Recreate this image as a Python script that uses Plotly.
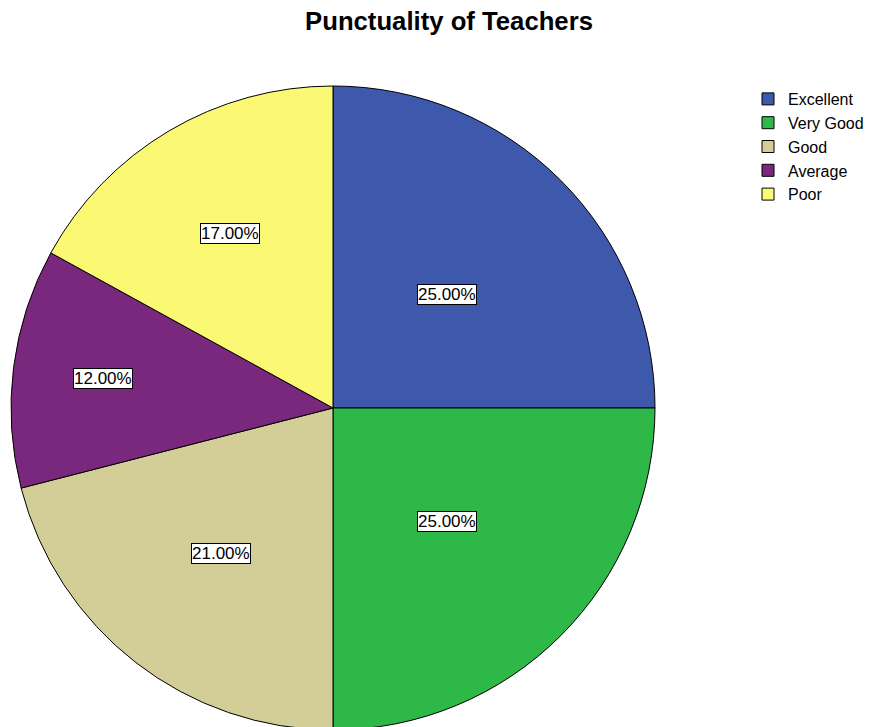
import math
import plotly.graph_objects as go

categories = ["Excellent", "Very Good", "Good", "Average", "Poor"]
percentages = [25.0, 25.0, 21.0, 12.0, 17.0]
colors = ["#3E58AC", "#2EB848", "#D3CE97", "#79287D", "#FBF873"]
label_radius = [0.50, 0.50, 0.57, 0.72, 0.63]  # fraction of radius where SPSS placed labels

W, H = 875, 727
ml, mr, mt, mb = 3, 0, 78, 5
pw, ph = W - ml - mr, H - mt - mb
diam = min(pw, ph)
dom_x = [0, diam / pw]

FONT = "Arial, Liberation Sans, sans-serif"

fig = go.Figure(go.Pie(
    labels=categories,
    values=percentages,
    sort=False,
    direction="clockwise",
    rotation=0,
    textinfo="none",
    hoverinfo="label+percent",
    marker=dict(colors=colors, line=dict(color="black", width=1)),
    domain=dict(x=dom_x, y=[0, 1]),
))

# label annotations placed at each slice's mid-angle
cx = (dom_x[0] + dom_x[1]) / 2
cy = 0.5
rx = diam / 2 / pw
ry = diam / 2 / ph
total = sum(percentages)
cum = 0.0
annotations = []
for v, f in zip(percentages, label_radius):
    mid = (cum + v / 2) / total * 2 * math.pi
    cum += v
    annotations.append(dict(
        x=cx + f * rx * math.sin(mid),
        y=cy + f * ry * math.cos(mid),
        xref="paper", yref="paper",
        xanchor="center", yanchor="middle",
        text=f"{v / total * 100:.2f}%",
        showarrow=False,
        font=dict(family=FONT, size=17, color="black"),
        bgcolor="white", bordercolor="black", borderwidth=1, borderpad=0,
    ))

fig.update_layout(
    width=W, height=H,
    margin=dict(l=ml, r=mr, t=mt, b=mb),
    paper_bgcolor="white", plot_bgcolor="white",
    title=dict(text="<b>Punctuality of Teachers</b>", x=441 / W, xref="container", xanchor="center",
               y=1 - 13 / H, yref="container", yanchor="middle",
               font=dict(family=FONT, size=25.7, color="black")),
    legend=dict(x=(740 - ml) / pw, y=(H - mb - 74) / ph, xanchor="left", yanchor="top",
                font=dict(family=FONT, size=16, color="black"),
                tracegroupgap=0, itemwidth=30),
    annotations=annotations,
    showlegend=True,
)

fig.write_html("out.html")
